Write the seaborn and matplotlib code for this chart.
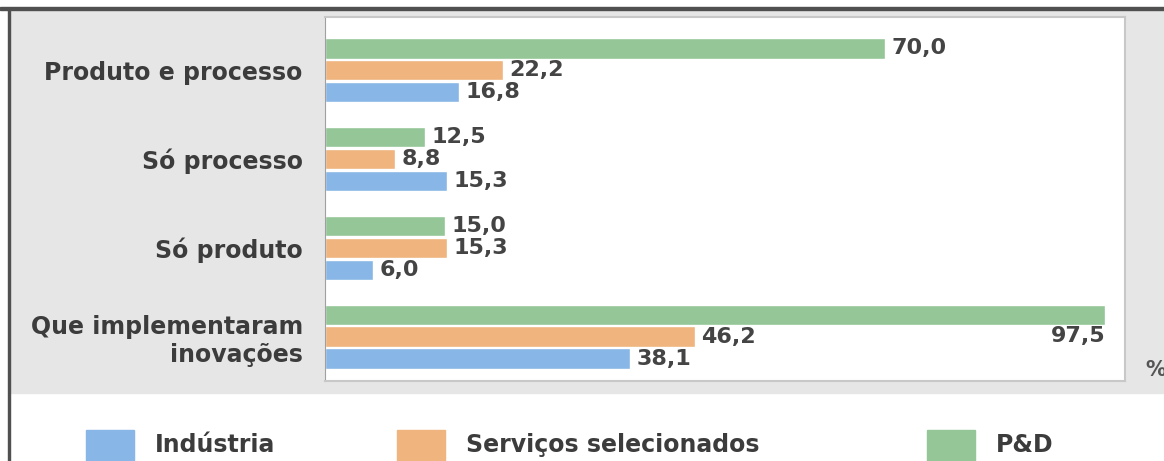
import matplotlib
matplotlib.use("Agg")
import matplotlib.pyplot as plt
from matplotlib.patches import Rectangle
import seaborn as sns
import pandas as pd

sns.set_style("white")
plt.rcParams["font.family"] = ["DejaVu Sans"]

# -------------------------------
# Data
# -------------------------------
categorias = ["Produto e processo", "Só processo", "Só produto",
              "Que implementaram\ninovações"]
series = ["P&D", "Serviços selecionados", "Indústria"]
industria = [16.8, 15.3, 6.0, 38.1]
servicos = [22.2, 8.8, 15.3, 46.2]
pd_valores = [70.0, 12.5, 15.0, 97.5]

cores = {"Indústria": "#88b6e6", "Serviços selecionados": "#f0b47e", "P&D": "#94c697"}
legenda = ["Indústria", "Serviços selecionados", "P&D"]

df = pd.DataFrame({
    "categoria": categorias * 3,
    "serie": ["P&D"] * 4 + ["Serviços selecionados"] * 4 + ["Indústria"] * 4,
    "valor": pd_valores + servicos + industria,
})

W, H = 1164, 461
fig = plt.figure(figsize=(W / 100, H / 100), dpi=100)
fig.patch.set_facecolor("white")

# grey panel + dark frame lines
fig.add_artist(Rectangle((10 / W, 68 / H), 1, (393 - 9) / H,
                         transform=fig.transFigure, color="#e6e6e6", zorder=0))
fig.add_artist(Rectangle((0, (H - 10) / H), 1, 3 / H,
                         transform=fig.transFigure, color="#505050", zorder=1))
fig.add_artist(Rectangle((8 / W, 0), 2 / W, (H - 8) / H,
                         transform=fig.transFigure, color="#505050", zorder=1))

ax = fig.add_axes([325 / W, 1 - 381 / H, 800 / W, 364 / H])
ax.set_facecolor("white")

sns.barplot(
    data=df, y="categoria", x="valor", hue="serie",
    order=categorias, hue_order=series, palette=cores, saturation=1,
    orient="h", width=0.74, gap=0.07, legend=False, ax=ax
)

ax.set_xlim(0, 100)
ax.set_ylim(3.5, -0.6)
ax.set_xlabel("")
ax.set_ylabel("")
ax.set_xticks([])

# value labels
for cont in ax.containers:
    for bar in cont:
        w = bar.get_width()
        yc = bar.get_y() + bar.get_height() / 2
        txt = f"{w:.1f}".replace(".", ",")
        if w > 90:
            ax.text(w, yc + 0.245, txt, ha="right", va="center",
                    fontsize=16, fontweight="bold", color="#444444")
        else:
            ax.text(w + 0.8, yc, txt, ha="left", va="center",
                    fontsize=16, fontweight="bold", color="#444444")

ax.set_yticks(range(len(categorias)))
ax.set_yticklabels(categorias, fontsize=17, fontweight="bold", color="#3c3c3c",
                   ha="right", multialignment="right")
ax.tick_params(axis="y", which="major", length=0, pad=16)
ax.set_yticks([-0.5, 0.5, 1.5, 2.5, 3.5], minor=True)
ax.tick_params(axis="y", which="minor", length=5, width=1, color="#a0a0a0")

ax.spines["left"].set_color("#a0a0a0")
for s in ["top", "right", "bottom"]:
    ax.spines[s].set_color("#c8c8c8")
    ax.spines[s].set_linewidth(1.5)

fig.text(1145 / W, 1 - 370 / H, "%", fontsize=15, fontweight="bold",
         color="#555555", ha="left", va="center")

# legend
leg_x = [86, 397, 927]
for nome, x0 in zip(legenda, leg_x):
    fig.add_artist(Rectangle((x0 / W, -0.1), 48 / W, (H - 430) / H + 0.1,
                             transform=fig.transFigure, color=cores[nome]))
    fig.text((x0 + 69) / W, 1 - 445 / H, nome, fontsize=17, fontweight="bold",
             color="#3c3c3c", ha="left", va="center")

fig.savefig("out.png", dpi=100)
